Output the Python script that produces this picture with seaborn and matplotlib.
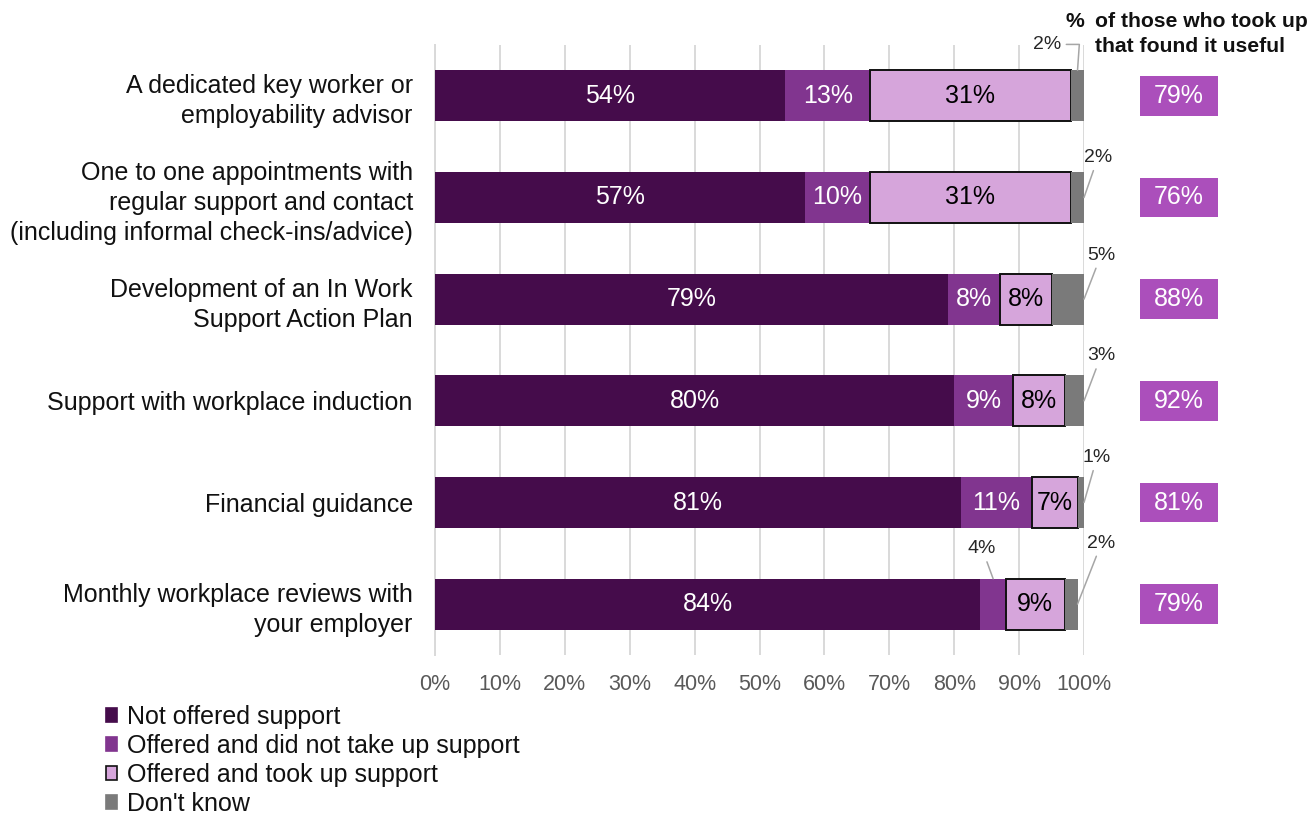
import matplotlib
matplotlib.use("Agg")
import matplotlib.pyplot as plt
import seaborn as sns
import numpy as np
from matplotlib.patches import Rectangle, Patch
from matplotlib.transforms import blended_transform_factory

# ---- data -------------------------------------------------------------
categories = [
    "A dedicated key worker or\nemployability advisor",
    "One to one appointments with\nregular support and contact\n(including informal check-ins/advice)",
    "Development of an In Work\nSupport Action Plan",
    "Support with workplace induction",
    "Financial guidance",
    "Monthly workplace reviews with\nyour employer",
]
not_offered = [54, 57, 79, 80, 81, 84]
offered_not_taken = [13, 10, 8, 9, 11, 4]
offered_taken = [31, 31, 8, 8, 7, 9]
dont_know = [2, 2, 5, 3, 1, 2]
found_useful = [79, 76, 88, 92, 81, 79]

series_names = [
    "Not offered support",
    "Offered and did not take up support",
    "Offered and took up support",
    "Don't know",
]
x_ticks = [0, 10, 20, 30, 40, 50, 60, 70, 80, 90, 100]
x_tick_labels = [f"{t}%" for t in x_ticks]
header_symbol = "%"
header_text = "of those who took up\nthat found it useful"

# ---- style ------------------------------------------------------------
sns.set_style("white")
plt.rcParams["font.family"] = ["Liberation Sans", "DejaVu Sans"]

colors = ["#450c4b", "#81358f", "#d6a5db", "#7a7a7a"]
edges = ["none", "none", "#111111", "none"]
label_colors = ["white", "white", "black", None]
box_color = "#ab4fbb"
grid_color = "#d9d9d9"
text_color = "#111111"

fig = plt.figure(figsize=(13.12, 8.16), dpi=100)
ax = fig.add_axes([435 / 1312, 1 - 655 / 816, 649 / 1312, 610 / 816])

series = [not_offered, offered_not_taken, offered_taken, dont_know]
n = len(categories)
left = np.zeros(n)
segments = []  # (series index, row, left, width)
for s, (vals, col, ec) in enumerate(zip(series, colors, edges)):
    sns.barplot(x=vals, y=categories, orient="h", color=col, saturation=1,
                width=0.5, errorbar=None, edgecolor=ec,
                linewidth=1.4 if ec != "none" else 0, ax=ax, zorder=3)
    bars = ax.containers[-1]
    for i, (bar, l) in enumerate(zip(bars, left)):
        bar.set_x(l)
        segments.append((s, i, l, vals[i]))
    left = left + np.array(vals)

# ---- axes -------------------------------------------------------------
ax.set_xlim(0, 100)
ax.set_ylim(n - 0.5, -0.5)
ax.set_xticks(x_ticks)
ax.set_xticklabels(x_tick_labels)
ax.set_xlabel("")
ax.set_ylabel("")
ax.grid(axis="x", color=grid_color, linewidth=1.4, zorder=0)
ax.grid(axis="y", visible=False)
ax.set_axisbelow(True)
for side in ["top", "right", "bottom"]:
    ax.spines[side].set_visible(False)
ax.spines["left"].set_color(grid_color)
ax.spines["left"].set_linewidth(1.4)
ax.set_yticks(np.arange(-0.5, n, 1.0), minor=True)
ax.tick_params(axis="y", which="minor", length=7, width=1.4, color=grid_color)
ax.tick_params(axis="y", which="major", length=0, pad=16, labelsize=18,
               labelcolor=text_color)
ax.tick_params(axis="x", length=0, pad=14, labelsize=15.5, labelcolor="#595959")
for t in ax.get_yticklabels():
    t.set_linespacing(1.32)
    t.set_multialignment("right")

# ---- in-bar labels ----------------------------------------------------
callouts = {}
for s, i, l, w in segments:
    if s == 3 or w < 5:
        callouts[(s, i)] = (l, w)
        continue
    ax.text(l + w / 2, i, f"{w}%", ha="center", va="center",
            fontsize=18, color=label_colors[s], zorder=4)

# leader-line labels for narrow segments (offsets in pixels)
offsets = {
    (3, 0): (-30, 26, "top"),
    (3, 1): (14, 40, "end"),
    (3, 2): (17, 44, "end"),
    (3, 3): (17, 45, "end"),
    (3, 4): (13, 45, "end"),
    (3, 5): (24, 61, "end"),
    (1, 5): (-11, 30, "top"),
}
for key, (l, w) in callouts.items():
    s, i = key
    dx, dy, anchor = offsets[key]
    if anchor == "top":
        xy = (l + w / 2, i - 0.25)
    else:
        xy = (l + w, i)
    conn = "angle,angleA=0,angleB=86,rad=0" if key == (3, 0) else "arc3"
    ax.annotate(f"{w}%", xy=xy, xytext=(dx, dy), textcoords="offset pixels",
                ha="center", va="center", fontsize=14, color="#262626",
                annotation_clip=False, zorder=5,
                arrowprops=dict(arrowstyle="-", color="#a6a6a6", lw=1.1,
                                shrinkA=1, shrinkB=0, connectionstyle=conn))

# ---- "found it useful" column ------------------------------------------
trans = blended_transform_factory(ax.transAxes, ax.transData)
box_x, box_w, box_h = 1.086, 0.120, 0.39
for i, v in enumerate(found_useful):
    ax.add_patch(Rectangle((box_x, i - box_h / 2), box_w, box_h,
                           transform=trans, facecolor=box_color,
                           edgecolor="none", clip_on=False, zorder=3))
    ax.text(box_x + box_w / 2, i, f"{v}%", transform=trans, ha="center",
            va="center", fontsize=18, color="white", zorder=4)

fig.text(1095 / 1312, 1 - 12 / 816, header_text, ha="left", va="top",
         fontsize=15.2, fontweight="bold", color=text_color, linespacing=1.38)
fig.text(1084 / 1312, 1 - 12 / 816, header_symbol, ha="right", va="top",
         fontsize=15.2, fontweight="bold", color=text_color)

# ---- legend -------------------------------------------------------------
handles = [Patch(facecolor=c, edgecolor=("#111111" if e != "none" else c),
                 linewidth=1.2) for c, e in zip(colors, edges)]
fig.legend(handles, series_names, loc="upper left",
           bbox_to_anchor=(106 / 1312, 1 - 705 / 816), frameon=False,
           fontsize=18, handlelength=0.45, handleheight=0.45,
           handletextpad=0.4, labelspacing=0.2, borderpad=0,
           borderaxespad=0, labelcolor=text_color)

fig.savefig("out.png", dpi=100)
